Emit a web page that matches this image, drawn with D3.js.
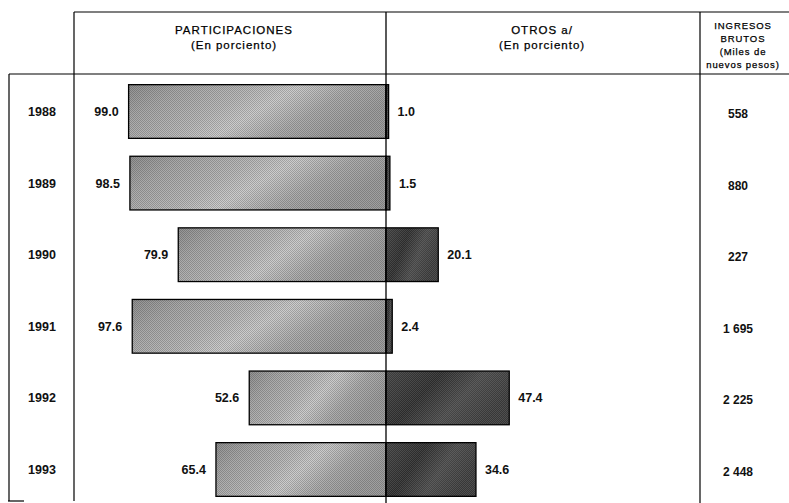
<!DOCTYPE html>
<html><head><meta charset="utf-8">
<script src="https://cdn.jsdelivr.net/npm/d3@7"></script>
<style>
html,body{margin:0;padding:0;background:#fff;}
svg{display:block;font-family:"Liberation Sans",Arial,Helvetica,sans-serif;}
</style></head>
<body>
<svg id="c" width="789" height="503"></svg>
<script>
const years = ["1988","1989","1990","1991","1992","1993"];
const participaciones = [99.0, 98.5, 79.9, 97.6, 52.6, 65.4];
const otros = [1.0, 1.5, 20.1, 2.4, 47.4, 34.6];
const ingresos = ["558", "880", "227", "1 695", "2 225", "2 448"];
const headerPart = ["PARTICIPACIONES", "(En porciento)"];
const headerOtros = ["OTROS a/", "(En porciento)"];
const headerIng = ["INGRESOS", "BRUTOS", "(Miles de", "nuevos pesos)"];

const svg = d3.select("#c");
const W = 789, H = 503;
const cx = 386;          // center axis
const colYear = 74, colRight = 700, leftBorder = 9;
const topY = 12, headY = 74;

const y = d3.scaleBand().domain(years).range([75.7, 505.3]).paddingInner(0.25).paddingOuter(0.125);
const x = d3.scaleLinear().domain([0, 100]).range([0, 260]);

// defs: textures
const defs = svg.append("defs");
function dither(id, dot, op) {
  const p = defs.append("pattern").attr("id", id).attr("width", 2).attr("height", 2)
    .attr("patternUnits", "userSpaceOnUse");
  p.append("rect").attr("width", 1).attr("height", 1).attr("fill", dot).attr("opacity", op);
  p.append("rect").attr("x", 1).attr("y", 1).attr("width", 1).attr("height", 1).attr("fill", dot).attr("opacity", op);
}
dither("ditL", "#000", 0.2);
dither("ditR", "#fff", 0.12);
const gL = defs.append("linearGradient").attr("id", "gradL").attr("x1", "0").attr("y1", "0").attr("x2", "1").attr("y2", "0.35");
[[0, "#929292"], [0.2, "#aaaaaa"], [0.45, "#bcbcbc"], [0.6, "#cdcdcd"], [0.8, "#aeaeae"], [1, "#a0a0a0"]]
  .forEach(([o, c]) => gL.append("stop").attr("offset", o).attr("stop-color", c));
const gR = defs.append("linearGradient").attr("id", "gradR").attr("x1", "0").attr("y1", "0").attr("x2", "1").attr("y2", "0.4");
[[0, "#3e3e3e"], [0.4, "#2a2a2a"], [0.7, "#464646"], [1, "#373737"]]
  .forEach(([o, c]) => gR.append("stop").attr("offset", o).attr("stop-color", c));

// table lines
const lines = svg.append("g").attr("stroke", "#000").attr("stroke-width", 1.2).attr("fill", "none");
lines.append("line").attr("x1", colYear).attr("x2", W).attr("y1", topY).attr("y2", topY);
lines.append("line").attr("x1", leftBorder).attr("x2", W).attr("y1", headY).attr("y2", headY);
lines.append("line").attr("x1", colYear).attr("x2", colYear).attr("y1", topY).attr("y2", 501);
lines.append("line").attr("x1", leftBorder).attr("x2", leftBorder).attr("y1", headY).attr("y2", 501);
lines.append("line").attr("x1", leftBorder - 1).attr("x2", 24).attr("y1", 501).attr("y2", 501);
lines.append("line").attr("x1", colRight).attr("x2", colRight).attr("y1", topY).attr("y2", H);

// headers
const ht = svg.append("g").attr("fill", "#000").attr("stroke", "#000").attr("stroke-width", 0.25)
  .attr("text-anchor", "middle");
headerPart.forEach((t, i) => ht.append("text").attr("x", (colYear + cx) / 2 + 4).attr("y", 34 + i * 15)
  .attr("font-size", 11.5).attr("letter-spacing", 1).text(t));
headerOtros.forEach((t, i) => ht.append("text").attr("x", 542).attr("y", 34 + i * 15)
  .attr("font-size", 11.5).attr("letter-spacing", 1).text(t));
headerIng.forEach((t, i) => ht.append("text").attr("x", 743).attr("y", 29 + i * 13)
  .attr("font-size", 9.5).attr("letter-spacing", 0.9).text(t));

// bars
const rows = svg.append("g").selectAll("g").data(years).join("g");
rows.append("rect").attr("x", (d, i) => cx - x(participaciones[i])).attr("y", d => y(d))
  .attr("width", (d, i) => x(participaciones[i])).attr("height", y.bandwidth()).attr("fill", "url(#gradL)");
rows.append("rect").attr("x", (d, i) => cx - x(participaciones[i])).attr("y", d => y(d))
  .attr("width", (d, i) => x(participaciones[i])).attr("height", y.bandwidth())
  .attr("fill", "url(#ditL)").attr("stroke", "#000").attr("stroke-width", 1.3);
rows.append("rect").attr("x", cx).attr("y", d => y(d))
  .attr("width", (d, i) => x(otros[i])).attr("height", y.bandwidth()).attr("fill", "url(#gradR)");
rows.append("rect").attr("x", cx).attr("y", d => y(d))
  .attr("width", (d, i) => x(otros[i])).attr("height", y.bandwidth())
  .attr("fill", "url(#ditR)").attr("stroke", "#000").attr("stroke-width", 1.3);

// center axis line
svg.append("line").attr("x1", cx).attr("x2", cx).attr("y1", topY).attr("y2", H)
  .attr("stroke", "#000").attr("stroke-width", 1.3);

// labels
const lab = svg.append("g").attr("fill", "#111").attr("font-size", 12.5).attr("font-weight", "bold");
const mid = d => y(d) + y.bandwidth() / 2 + 4.5;
lab.selectAll(".yr").data(years).join("text").attr("x", 42).attr("y", mid)
  .attr("text-anchor", "middle").text(d => d);
lab.selectAll(".lp").data(years).join("text").attr("x", (d, i) => cx - x(participaciones[i]) - 10)
  .attr("y", mid).attr("text-anchor", "end").text((d, i) => participaciones[i].toFixed(1));
lab.selectAll(".lo").data(years).join("text").attr("x", (d, i) => cx + x(otros[i]) + 9)
  .attr("y", mid).attr("text-anchor", "start").text((d, i) => otros[i].toFixed(1));
lab.selectAll(".li").data(years).join("text").attr("x", 738)
  .attr("y", d => mid(d) + 2).attr("text-anchor", "middle").attr("font-size", 12).text((d, i) => ingresos[i]);
</script>
</body></html>
